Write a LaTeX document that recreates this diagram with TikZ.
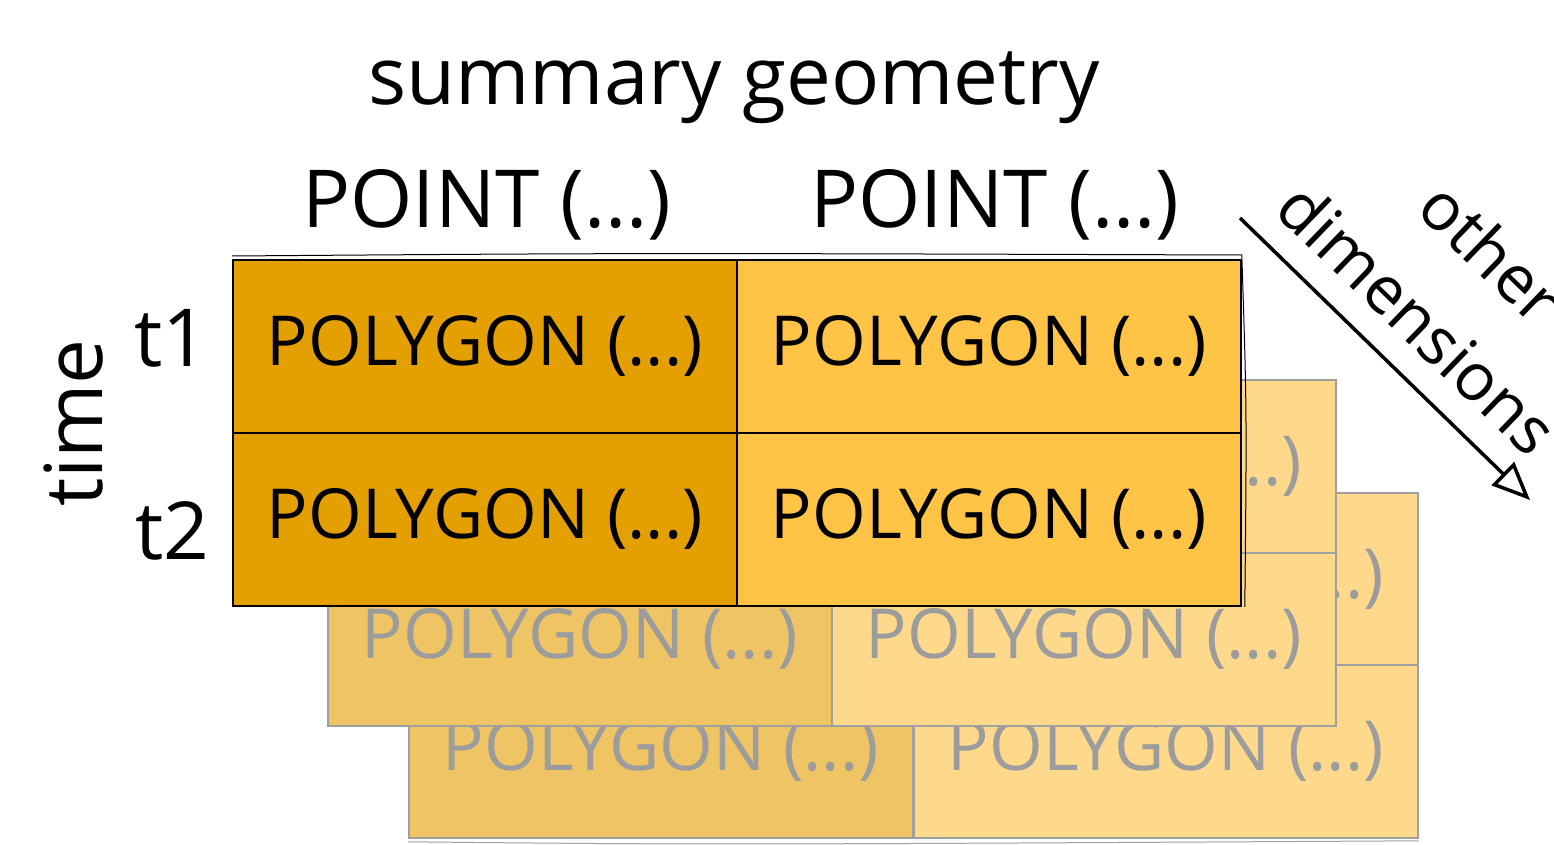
\documentclass[tikz,border=0pt]{standalone}
\usepackage{fontspec}
\setmainfont{Open Sans}
\usetikzlibrary{arrows.meta}
\definecolor{darkor}{HTML}{E49F00}
\definecolor{lightor}{HTML}{FFC445}
\definecolor{bdark}{HTML}{EEC465}
\definecolor{blight}{HTML}{FFD98B}
\definecolor{gline}{HTML}{A0A0A0}
\definecolor{gtext}{HTML}{9C9C9C}
\begin{document}
\begin{tikzpicture}[x=1pt,y=-1pt,
  cell/.style={minimum width=504pt, minimum height=173pt, inner sep=0pt, anchor=north west,
    font=\fontsize{69}{76}\selectfont},
  front/.style={cell, draw=black, line width=1.8pt},
  backc/.style={cell, draw=gline, line width=1.8pt, text=gtext},
  big/.style={font=\fontsize{80}{90}\selectfont, inner sep=0pt},
  side/.style={font=\fontsize{66}{72}\selectfont, inner sep=0pt},
  sketch/.style={line width=1pt}]
\useasboundingbox (0,0) rectangle (1554,845);
% back layer
\node[backc, fill=bdark]  (c11) at (408,492) {POLYGON (...)};
\node[backc, fill=blight] (c12) at (913,492) {POLYGON (...)};
\node[backc, fill=bdark]  (c21) at (408,664) {POLYGON (...)};
\node[backc, fill=blight] (c22) at (913,664) {POLYGON (...)};
\draw[sketch, draw=gline] ([yshift=-3pt]c21.south west) .. controls ([xshift=300pt,yshift=-6pt]c21.south west) .. ([yshift=-2pt]c22.south east);
% middle layer
\node[backc, fill=bdark]  (b11) at (327,379) {POLYGON (...)};
\node[backc, fill=blight] (b12) at (831,379) {POLYGON (...)};
\node[backc, fill=bdark]  (b21) at (327,552) {POLYGON (...)};
\node[backc, fill=blight] (b22) at (831,552) {POLYGON (...)};
% front layer
\node[front, fill=darkor]  (a11) at (232,259) {POLYGON (...)};
\node[front, fill=lightor] (a12) at (736,259) {POLYGON (...)};
\node[front, fill=darkor]  (a21) at (232,432) {POLYGON (...)};
\node[front, fill=lightor] (a22) at (736,432) {POLYGON (...)};
\draw[sketch] ([yshift=3pt]a11.north west) .. controls ([xshift=400pt,yshift=6pt]a11.north west) .. ([yshift=4pt]a12.north east)
  .. controls ([xshift=5pt,yshift=-150pt]a12.north east) .. ([xshift=3pt]a22.south east);
% titles
\node[big, anchor=base] (title) at (734,105) {summary geometry};
\node[big, anchor=base] (p1) at (487,227) {POINT (...)};
\node[big, anchor=base] (p2) at (995,227) {POINT (...)};
\node[big, anchor=base] (t1) at (171,366) {t1};
\node[big, anchor=base] (t2) at (172,559) {t2};
\node[big, anchor=base, rotate=90] (time) at (102,423) {time};
% other dimensions
\coordinate (d1) at (1240,218);
\coordinate (d2) at (1530,500);
\draw[line width=3.5pt, -{Triangle[open, length=38pt, width=32pt, line width=3.5pt]}] (d1) -- (d2);
\node[side, rotate=-44] (dim) at (1418,318) {dimensions};
\node[side, rotate=-44] (oth) at (1492,252) {other};
\end{tikzpicture}
\end{document}
